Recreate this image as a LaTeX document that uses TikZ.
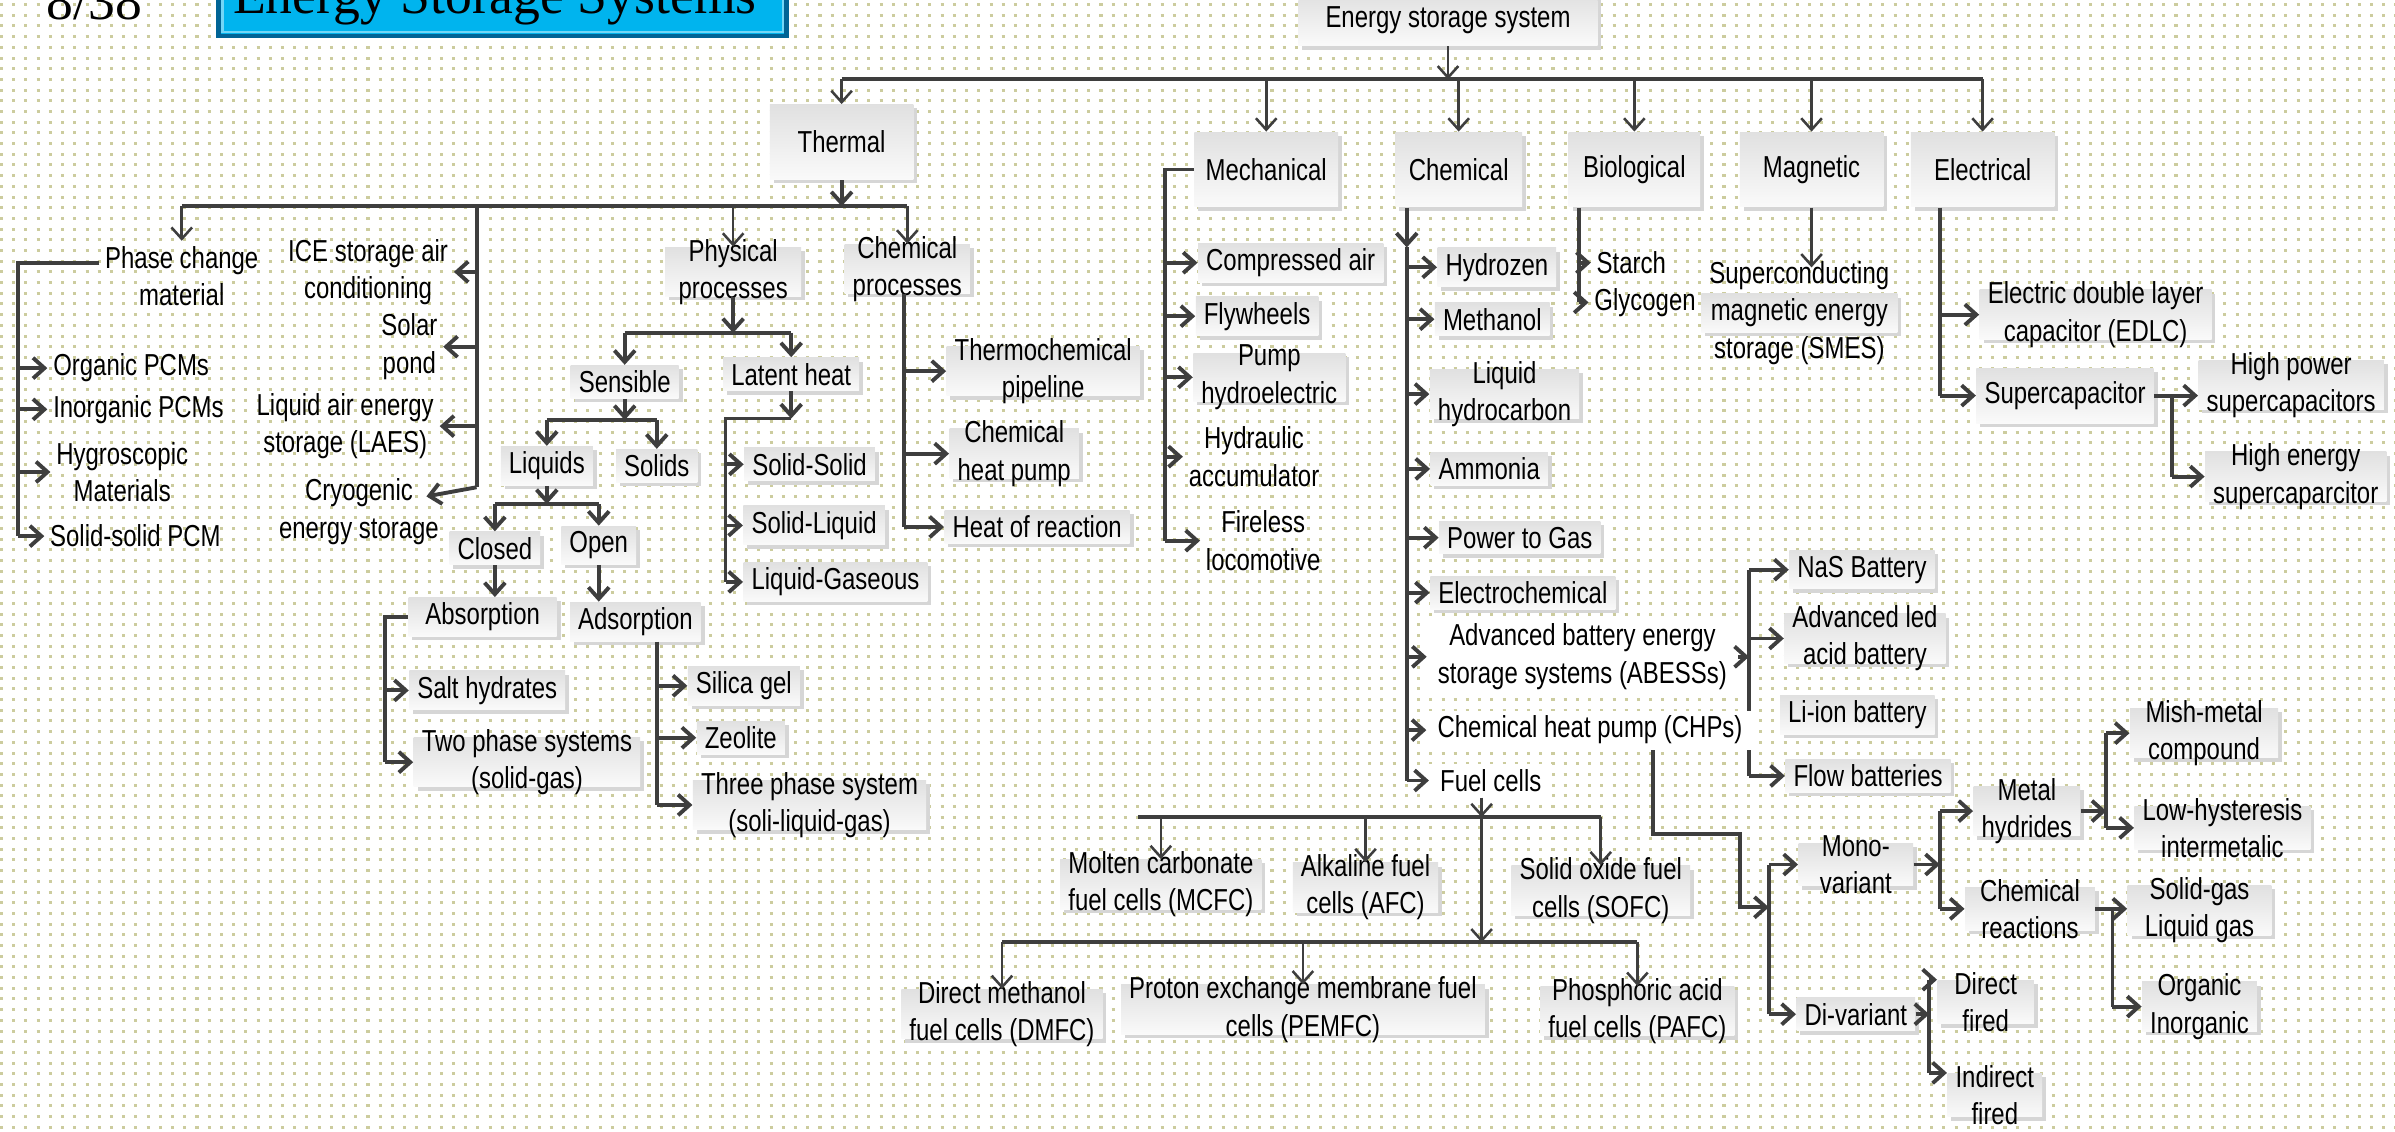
\documentclass[tikz,border=0pt]{standalone}
\usepackage{fontspec}
\setmainfont{Liberation Sans}
\newfontfamily\narrowfont{Liberation Sans}[FakeStretch=0.79]
\newfontfamily\slidefont{Liberation Serif}
\usetikzlibrary{arrows.meta,calc,shadows}

\definecolor{dotcol}{RGB}{204,204,158}
\definecolor{linecol}{RGB}{62,62,62}
\definecolor{titleblue}{RGB}{0,180,238}
\definecolor{titleedge}{RGB}{0,100,150}

\tikzset{
  lbl/.style={font=\narrowfont\fontsize{11.3}{13.9}\selectfont, align=center, inner sep=2pt},
  bx/.style={lbl, rectangle, top color=black!12, bottom color=black!2, inner xsep=3pt, inner ysep=2pt,
    drop shadow={shadow xshift=0.05cm, shadow yshift=-0.05cm, opacity=1, fill=black!16}},
  two/.style={inner ysep=-3pt},
  cat/.style={bx, minimum width=1.88cm, minimum height=0.98cm},
  wht/.style={lbl, fill=white, inner xsep=4pt},
  ln/.style={draw=linecol, line width=1.45pt},
  arr/.style={ln, -{Straight Barb[length=0.15cm, width=0.27cm]}},
  tarr/.style={arr, line width=0.95pt},
}

\begin{document}
\begin{tikzpicture}[x=0.02cm, y=-0.02cm]
  \useasboundingbox (0,0) rectangle (1568,741);
  % dotted slide background
  \fill[white] (0,0) rectangle (1568,741);
  \foreach \r in {0,...,106}
    \draw[dotcol, line width=0.04cm, dash pattern=on 0.04cm off 0.12cm] (0,\r*7+3) -- (1568,\r*7+3);

  % slide header, cut by the top edge
  \node[font=\slidefont\fontsize{20}{24}\selectfont, anchor=base] (pgnum) at (62,13) {8/38};
  \node[draw=titleedge, line width=1.6pt, fill=titleblue, minimum width=7.44cm, minimum height=1.3cm, anchor=south, inner sep=0pt] (ttlbox) at (329,25) {};
  \draw[titleblue!55!white, line width=0.8pt] ($(ttlbox.south west)+(4,-4)$) rectangle ($(ttlbox.north east)+(-4,4)$);
  \node[font=\slidefont\fontsize{20}{24}\selectfont, anchor=base] (ttl) at (324,9) {Energy Storage Systems};

  % root and main classes
  \node[bx, minimum width=3.92cm, minimum height=0.68cm] (ess) at (948,13) {Energy storage system};
  \node[cat] (thermal) at (551,93) {Thermal};
  \node[cat] (mech) at (829,111) {Mechanical};
  \node[cat, minimum width=1.66cm] (chem) at (955,111) {Chemical};
  \node[cat, minimum width=1.72cm] (bio) at (1070,111) {Biological};
  \node[cat] (magn) at (1186,111) {Magnetic};
  \node[cat] (elec) at (1298,111) {Electrical};

  % thermal
  \node[lbl] (pcm) at (119,181) {Phase change\\material};
  \node[lbl] (ice) at (241,178) {ICE storage air\\conditioning};
  \node[lbl] (solar) at (268,227) {Solar\\pond};
  \node[lbl] (laes) at (226,279) {Liquid air energy\\storage (LAES)};
  \node[lbl] (cryo) at (235,335) {Cryogenic\\energy storage};
  \node[lbl, anchor=west] (org) at (31,241) {Organic PCMs};
  \node[lbl, anchor=west] (inorg) at (31,268) {Inorganic PCMs};
  \node[lbl] (hygro) at (80,309) {Hygroscopic\\Materials};
  \node[lbl, anchor=west] (solpcm) at (29,351) {Solid-solid PCM};
  \node[bx, two, minimum width=1.78cm] (phys) at (480,178) {Physical\\processes};
  \node[bx] (sens) at (409,250) {Sensible};
  \node[bx] (lat) at (518,245) {Latent heat};
  \node[bx] (liq) at (358,305) {Liquids};
  \node[bx] (sol) at (430,305) {Solids};
  \node[bx] (closed) at (324,359) {Closed};
  \node[bx] (open) at (392,357) {Open};
  \node[bx, minimum width=1.94cm] (absorb) at (316,404) {Absorption};
  \node[bx] (adsorb) at (416,407) {Adsorption};
  \node[bx] (salt) at (319,452) {Salt hydrates};
  \node[bx, two] (twoph) at (345,499) {Two phase systems\\(solid-gas)};
  \node[bx] (silica) at (487,449) {Silica gel};
  \node[bx] (zeol) at (485,483) {Zeolite};
  \node[bx, two] (threeph) at (530,527) {Three phase system\\(soli-liquid-gas)};
  \node[bx] (ssolid) at (530,304) {Solid-Solid};
  \node[bx] (sliquid) at (533,344) {Solid-Liquid};
  \node[bx] (lgas) at (547,381) {Liquid-Gaseous};
  \node[bx, two] (chproc) at (594,176) {Chemical\\processes};
  \node[bx, two] (tpipe) at (683,243) {Thermochemical\\pipeline};
  \node[bx, two] (chpump) at (664,297) {Chemical\\heat pump};
  \node[bx] (heatr) at (679,345) {Heat of reaction};

  % mechanical
  \node[bx] (cair) at (845,172) {Compressed air};
  \node[bx] (fly) at (823,207) {Flywheels};
  \node[bx, two] (pump) at (831,247) {Pump\\hydroelectric};
  \node[lbl] (hydacc) at (821,299) {Hydraulic\\accumulator};
  \node[lbl] (firel) at (827,354) {Fireless\\locomotive};

  % chemical
  \node[bx] (hyd) at (980,175) {Hydrozen};
  \node[bx] (meth) at (977,209) {Methanol};
  \node[bx, two] (liqhc) at (985,258) {Liquid\\hydrocarbon};
  \node[bx] (amm) at (975,307) {Ammonia};
  \node[bx] (p2g) at (995,352) {Power to Gas};
  \node[bx] (echem) at (997,388) {Electrochemical};
  \node[wht] (abess) at (1036,430) {Advanced battery energy\\storage systems (ABESSs)};
  \node[wht] (fuel) at (976,511) {Fuel cells};
  \node[bx] (nas) at (1219,373) {NaS Battery};
  \node[bx, two] (ledacid) at (1221,418) {Advanced led\\acid battery};
  \node[bx] (liion) at (1216,468) {Li-ion battery};
  \node[bx] (flow) at (1223,508) {Flow batteries};
  \node[bx, two] (mcfc) at (760,579) {Molten carbonate\\fuel cells (MCFC)};
  \node[bx, two] (afc) at (894,581) {Alkaline fuel\\cells (AFC)};
  \node[bx, two] (sofc) at (1048,583) {Solid oxide fuel\\cells (SOFC)};
  \node[bx, two] (dmfc) at (656,664) {Direct methanol\\fuel cells (DMFC)};
  \node[bx, two] (pemfc) at (853,661) {Proton exchange membrane fuel\\cells (PEMFC)};
  \node[bx, two] (pafc) at (1072,662) {Phosphoric acid\\fuel cells (PAFC)};
  \node[bx, two, minimum width=1.5cm] (mono) at (1215,566) {Mono-\\variant};
  \node[bx] (di) at (1215,664) {Di-variant};
  \node[bx, two] (mh) at (1327,531) {Metal\\hydrides};
  \node[bx, two, minimum width=1.7cm] (creac) at (1329,595) {Chemical\\reactions};
  \node[bx, two, minimum width=1.94cm] (mish) at (1443,480) {Mish-metal\\compound};
  \node[bx, two] (lowh) at (1455,542) {Low-hysteresis\\intermetalic};
  \node[bx, two, minimum width=1.88cm] (sgas) at (1440,596) {Solid-gas\\Liquid gas};
  \node[bx, two] (orgn) at (1440,659) {Organic\\Inorganic};
  \node[bx, two, minimum width=1.26cm] (direct) at (1300,656) {Direct\\fired};
  \node[bx, two] (indirect) at (1306,717) {Indirect\\fired};

  % biological, magnetic, electrical
  \node[lbl] (starch) at (1068,172) {Starch};
  \node[lbl] (glyc) at (1077,198) {Glycogen};
  \node[bx, inner ysep=-12pt] (smes) at (1178,205) {Superconducting\\magnetic energy\\storage (SMES)};
  \node[bx, two] (edlc) at (1372,206) {Electric double layer\\capacitor (EDLC)};
  \node[bx, minimum height=0.72cm] (supcap) at (1352,259) {Supercapacitor};
  \node[bx, two] (highpow) at (1500,252) {High power\\supercapacitors};
  \node[bx, two] (highen) at (1503,312) {High energy\\supercaparcitor};

  % top level connectors
  \coordinate (topbus) at (946,52);
  \draw[tarr] (ess.south) -- (ess.south |- topbus);
  \draw[ln] (thermal |- topbus) -- (elec |- topbus);
  \foreach \n in {thermal,mech,chem,bio,magn,elec}
    \draw[tarr] (topbus -| \n) -- (\n.north);

  % thermal connectors
  \coordinate (thbus) at (551,135);
  \draw[arr] (thermal.south) -- (thbus);
  \draw[ln] (pcm |- thbus) -- (chproc |- thbus);
  \foreach \n in {pcm,phys,chproc}
    \draw[tarr] (thbus -| \n) -- (\n.north);
  \coordinate (icerail) at (312,319);
  \draw[ln] (thbus -| icerail) -- (icerail);
  \foreach \n in {ice,solar,laes}
    \draw[arr] (icerail |- \n.east) -- (\n.east);
  \draw[arr] (icerail) -- ($(cryo.east)+(-12,-10)$);
  \coordinate (pcmrail) at (12,351);
  \draw[ln] ($(pcm.west)+(0,-9)$) -| (pcmrail);
  \foreach \n in {org,inorg,hygro,solpcm}
    \draw[arr] (pcmrail |- \n.west) -- (\n.west);
  \coordinate (phbus) at (483,218);
  \draw[arr] (phys.south) -- (phys.south |- phbus);
  \draw[ln] (sens |- phbus) -- (lat |- phbus);
  \foreach \n in {sens,lat}
    \draw[arr] (phbus -| \n) -- (\n.north);
  \coordinate (snbus) at (405,275);
  \draw[arr] (sens.south) -- (sens.south |- snbus);
  \draw[ln] (liq |- snbus) -- (sol |- snbus);
  \foreach \n in {liq,sol}
    \draw[arr] (snbus -| \n) -- (\n.north);
  \coordinate (lqbus) at (357,330);
  \draw[arr] (liq.south) -- (liq.south |- lqbus);
  \draw[ln] (closed |- lqbus) -- (open |- lqbus);
  \foreach \n in {closed,open}
    \draw[arr] (lqbus -| \n) -- (\n.north);
  \draw[arr] (closed.south) -- (closed.south |- absorb.north);
  \draw[arr] (open.south) -- (open.south |- adsorb.north);
  \coordinate (abrail) at (252,499);
  \draw[ln] (absorb.west) -| (abrail);
  \foreach \n in {salt,twoph}
    \draw[arr] (abrail |- \n.west) -- (\n.west);
  \coordinate (adrail) at (430,527);
  \draw[ln] (adsorb.south -| adrail) -- (adrail);
  \foreach \n in {silica,zeol,threeph}
    \draw[arr] (adrail |- \n.west) -- (\n.west);
  \coordinate (ltbus) at (514,274);
  \draw[arr] (lat.south) -- (lat.south |- ltbus);
  \coordinate (ltrail) at (475,381);
  \draw[ln] (lat.south |- ltbus) -| (ltrail);
  \foreach \n in {ssolid,sliquid,lgas}
    \draw[arr] (ltrail |- \n.west) -- (\n.west);
  \coordinate (cprail) at (592,345);
  \draw[ln] (chproc.south -| cprail) -- (cprail);
  \foreach \n in {tpipe,chpump,heatr}
    \draw[arr] (cprail |- \n.west) -- (\n.west);

  % mechanical connectors
  \coordinate (mechrail) at (763,354);
  \draw[ln] (mech.west) -| (mechrail);
  \foreach \n in {cair,fly,pump,hydacc,firel}
    \draw[arr] (mechrail |- \n.west) -- (\n.west);

  % chemical connectors
  \coordinate (chemrail) at (921,162);
  \draw[arr] (chem.south -| chemrail) -- (chemrail);
  \draw[ln] (chemrail) -- (chemrail |- fuel.west);
  \foreach \n in {hyd,meth,liqhc,amm,p2g,echem,abess,fuel}
    \draw[arr] (chemrail |- \n.west) -- (\n.west);
  \coordinate (barail) at (1145,508);
  \draw[arr] (abess.east) -- (abess.east -| barail);
  \draw[ln] (barail |- nas.west) -- (barail);
  \foreach \n in {nas,ledacid,flow}
    \draw[arr] (barail |- \n.west) -- (\n.west);
  \coordinate (fcbus) at (970,535);
  \draw[tarr] (fuel.south -| fcbus) -- (fcbus);
  \draw[ln] ($(mcfc |- fcbus)+(-15,0)$) -- (sofc |- fcbus);
  \foreach \n in {mcfc,afc,sofc}
    \draw[tarr] (fcbus -| \n) -- (\n.north);
  \coordinate (fcbus2) at (970,617);
  \draw[tarr] (fcbus) -- (fcbus2);
  \draw[ln] (dmfc |- fcbus2) -- (pafc |- fcbus2);
  \foreach \n in {dmfc,pemfc,pafc}
    \draw[tarr] (fcbus2 -| \n) -- (\n.north);

  % white label laid over the battery rail
  \node[wht] (chps) at (1041,478) {Chemical heat pump (CHPs)};
  \draw[arr] (chemrail |- chps.west) -- (chps.west);
  \coordinate (mdturn) at (1139,546);
  \coordinate (mdrail) at (1158,594);
  \draw[arr] ($(chps.south)+(41,0)$) |- (mdturn) |- (mdrail);
  \draw[ln] (mdrail |- mono.west) -- (mdrail |- di.west);
  \foreach \n in {mono,di}
    \draw[arr] (mdrail |- \n.west) -- (\n.west);
  \coordinate (mhrail) at (1270,594);
  \draw[arr] (mono.east) -- (mono.east -| mhrail);
  \draw[ln] (mhrail |- mh.west) -- (mhrail |- creac.west);
  \foreach \n in {mh,creac}
    \draw[arr] (mhrail |- \n.west) -- (\n.west);
  \coordinate (mishrail) at (1379,546);
  \draw[arr] (mh.east) -- (mh.east -| mishrail);
  \draw[ln] (mishrail |- mish.west) -- (mishrail |- lowh.west);
  \foreach \n in {mish,lowh}
    \draw[arr] (mishrail |- \n.west) -- (\n.west);
  \coordinate (sgrail) at (1383,659);
  \draw[arr] (creac.east) -- (creac.east -| sgas.west);
  \draw[ln] (creac.east -| sgrail) -- (sgrail);
  \draw[arr] (sgrail) -- (orgn.west);
  \coordinate (dfrail) at (1263,705);
  \draw[arr] (di.east) -- (di.east -| dfrail);
  \draw[ln] (dfrail |- direct.north west) -- (dfrail |- indirect.north west);
  \foreach \n in {direct,indirect}
    \draw[arr] (dfrail |- \n.north west) -- (\n.north west);

  % biological, magnetic, electrical connectors
  \coordinate (biorail) at (1034,198);
  \draw[ln] (bio.south -| biorail) -- (biorail);
  \foreach \n in {starch,glyc}
    \draw[arr] (biorail |- \n.west) -- (\n.west);
  \coordinate (smestop) at ($(smes.north)+(0,-17)$);
  \draw[tarr] (magn.south) -- (magn.south |- smestop);
  \coordinate (elrail) at (1270,259);
  \draw[ln] (elec.south -| elrail) -- (elrail);
  \draw[arr] (elrail |- edlc.west) -- (edlc.west);
  \draw[arr] (elrail) -- (supcap.west);
  \coordinate (hrail) at (1422,312);
  \draw[arr] (supcap.east) -- (supcap.east -| highpow.west);
  \draw[ln] (supcap.east -| hrail) -- (hrail);
  \draw[arr] (hrail) -- (highen.west);
\end{tikzpicture}
\end{document}
